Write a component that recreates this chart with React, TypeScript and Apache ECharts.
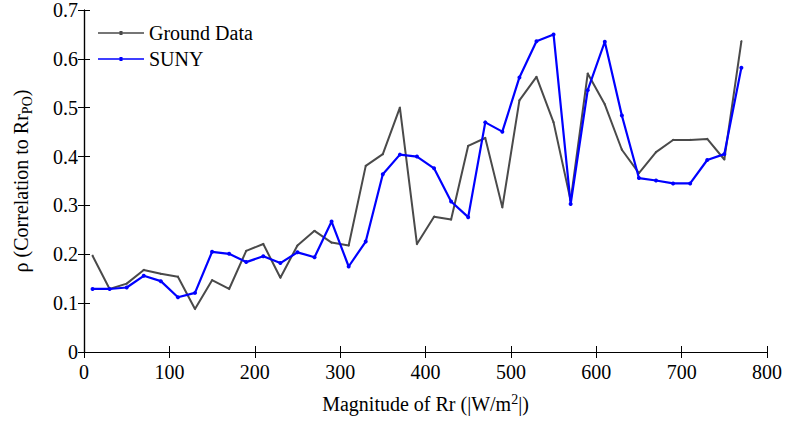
import React, { useEffect, useRef } from "react";
import * as echarts from "echarts";

const xValues = [10, 30, 50, 70, 90, 110, 130, 150, 170, 190, 210, 230, 250, 270, 290, 310, 330, 350, 370, 390, 410, 430, 450, 470, 490, 510, 530, 550, 570, 590, 610, 630, 650, 670, 690, 710, 730, 750, 770];
const groundData = [0.197, 0.129, 0.14, 0.168, 0.16, 0.154, 0.088, 0.147, 0.129, 0.207, 0.221, 0.152, 0.218, 0.248, 0.224, 0.218, 0.381, 0.405, 0.5, 0.221, 0.277, 0.271, 0.422, 0.438, 0.296, 0.515, 0.563, 0.47, 0.31, 0.57, 0.507, 0.414, 0.366, 0.409, 0.434, 0.434, 0.436, 0.394, 0.636];
const sunyData = [0.129, 0.129, 0.132, 0.156, 0.145, 0.112, 0.121, 0.205, 0.201, 0.184, 0.196, 0.182, 0.204, 0.194, 0.267, 0.175, 0.226, 0.364, 0.404, 0.4, 0.376, 0.308, 0.276, 0.47, 0.451, 0.562, 0.636, 0.65, 0.303, 0.536, 0.635, 0.484, 0.356, 0.351, 0.345, 0.345, 0.393, 0.405, 0.582];

const FONT = "Times New Roman";
const legendIcon = "path://M0,1.2L46,1.2L46,2.8L0,2.8Z M21.5,0L24.5,0L24.5,4L21.5,4Z";

export default function App() {
  const ref = useRef<HTMLDivElement>(null);
  useEffect(() => {
    document.body.style.margin = "0";
    const chart = echarts.init(ref.current!, null, { renderer: "svg" });
    const axisLine = { show: true, lineStyle: { color: "#000", width: 1.2 } };
    const tick = { show: true, inside: true, length: 6, lineStyle: { color: "#000" } };
    chart.setOption({
      animation: false,
      backgroundColor: "#fff",
      textStyle: { fontFamily: FONT },
      grid: { left: 81, right: 19, top: 10, bottom: 65 },
      legend: {
        left: 98,
        top: 23,
        padding: 0,
        orient: "vertical",
        itemGap: 6,
        itemWidth: 46,
        itemHeight: 4,
        textStyle: { fontFamily: FONT, fontSize: 20, color: "#000" },
        data: [
          { name: "Ground Data", icon: legendIcon },
          { name: "SUNY", icon: legendIcon },
        ],
      },
      xAxis: [
        {
          type: "value",
          min: 0,
          max: 800,
          interval: 100,
          position: "bottom",
          axisLine,
          axisTick: tick,
          splitLine: { show: false },
          axisLabel: { fontFamily: FONT, fontSize: 20, color: "#000", margin: 10 },
          name: "{n|Magnitude of Rr (|W/m}{p|2}{n||)}",
          nameLocation: "middle",
          nameGap: 40,
          nameTextStyle: {
            fontFamily: FONT,
            fontSize: 20,
            color: "#000",
            rich: {
              n: { fontFamily: FONT, fontSize: 20, color: "#000", lineHeight: 24 },
              p: { fontFamily: FONT, fontSize: 14, color: "#000", lineHeight: 24, padding: [0, 0, 10, 0] },
            },
          },
        },
        {
          type: "value",
          min: 0,
          max: 800,
          interval: 100,
          position: "top",
          axisLine,
          axisTick: tick,
          splitLine: { show: false },
          axisLabel: { show: false },
        },
      ],
      yAxis: [
        {
          type: "value",
          min: 0,
          max: 0.7,
          interval: 0.1,
          position: "left",
          axisLine,
          axisTick: tick,
          splitLine: { show: false },
          axisLabel: { fontFamily: FONT, fontSize: 20, color: "#000", margin: 6 },
          name: "{n|ρ (Correlation to Rr}{s|PO}{n|)}",
          nameLocation: "middle",
          nameGap: 50,
          nameTextStyle: {
            fontFamily: FONT,
            fontSize: 20,
            color: "#000",
            rich: {
              n: { fontFamily: FONT, fontSize: 20, color: "#000", lineHeight: 26 },
              s: { fontFamily: FONT, fontSize: 14, color: "#000", lineHeight: 26, padding: [12, 0, 0, 0] },
            },
          },
        },
        {
          type: "value",
          min: 0,
          max: 0.7,
          interval: 0.1,
          position: "right",
          axisLine,
          axisTick: tick,
          splitLine: { show: false },
          axisLabel: { show: false },
        },
      ],
      series: [
        {
          name: "Ground Data",
          type: "line",
          data: xValues.map((x, i) => [x, groundData[i]]),
          color: "#4a4a4a",
          lineStyle: { color: "#4a4a4a", width: 2 },
          symbol: "circle",
          symbolSize: 2,
          itemStyle: { color: "#4a4a4a" },
          z: 2,
        },
        {
          name: "SUNY",
          type: "line",
          data: xValues.map((x, i) => [x, sunyData[i]]),
          color: "#0000ff",
          lineStyle: { color: "#0000ff", width: 2.2 },
          symbol: "circle",
          symbolSize: 4,
          itemStyle: { color: "#0000ff" },
          z: 3,
        },
      ],
    });
    return () => chart.dispose();
  }, []);
  return <div ref={ref} style={{ position: "absolute", left: 0, top: 0, width: 786, height: 421 }} />;
}
